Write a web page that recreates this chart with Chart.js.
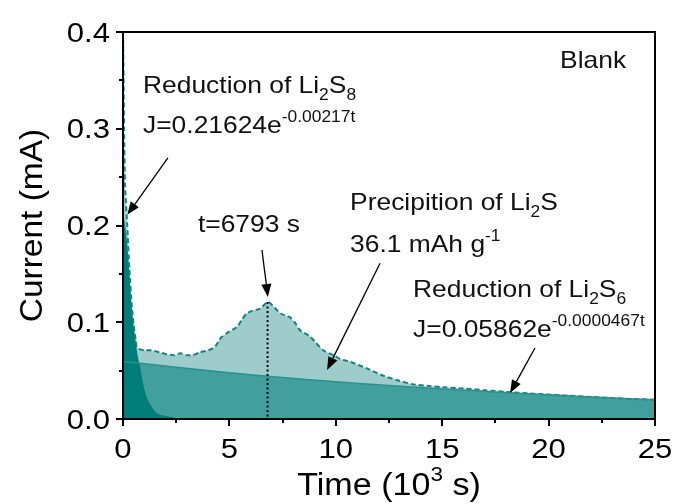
<!DOCTYPE html>
<html><head><meta charset="utf-8">
<script src="https://cdn.jsdelivr.net/npm/chart.js@4/dist/chart.umd.min.js"></script>
<style>html,body{margin:0;padding:0;background:#fff}#c{display:block}</style>
</head><body>
<canvas id="c" width="674" height="504"></canvas>
<script>
// ---- data (time in 10^3 s, current in mA) ----
const timeMeasured = [0, 0.05, 0.1, 0.2, 0.3, 0.4, 0.5, 0.6, 0.65, 0.8, 1.0, 1.3, 1.7, 2.05, 2.4, 2.7, 3.0, 3.3, 3.6, 4.0, 4.3, 4.6, 4.9, 5.35, 5.6, 5.8, 6.1, 6.45, 6.793, 7.0, 7.4, 7.85, 8.1, 8.3, 8.8, 9.4, 9.9, 10.2, 10.7, 11.6, 12.2, 12.9, 13.6, 14.4, 15.2, 16.0, 17.0, 18.0, 19.3, 20.7, 22.0, 23.0, 24.0, 25.0];
const currentMeasured = [0.41, 0.30, 0.24, 0.20, 0.155, 0.12, 0.097, 0.081, 0.074, 0.072, 0.071, 0.071, 0.069, 0.067, 0.066, 0.068, 0.066, 0.066, 0.069, 0.071, 0.074, 0.084, 0.089, 0.095, 0.103, 0.109, 0.112, 0.114, 0.121, 0.118, 0.109, 0.105, 0.099, 0.092, 0.085, 0.071, 0.066, 0.062, 0.059, 0.051, 0.045, 0.040, 0.036, 0.034, 0.0325, 0.0315, 0.0298, 0.028, 0.0262, 0.0244, 0.0228, 0.0216, 0.0207, 0.0199];
const timeLi2S8 = [0, 0.1, 0.2, 0.3, 0.4, 0.5, 0.6, 0.7, 0.8, 0.94, 1.05, 1.17, 1.4, 1.6, 2.0, 2.5, 3.0, 4.0, 25.0];
const currentLi2S8 = [0.216, 0.20, 0.18, 0.15, 0.118, 0.096, 0.079, 0.064, 0.054, 0.037, 0.027, 0.020, 0.011, 0.006, 0.003, 0.001, 0.0005, 0.0, 0.0];
const timeLi2S6 = [0, 2.5, 5, 7.5, 10, 12.5, 15, 17.5, 20, 22.5, 25];
const currentLi2S6 = [0.0595, 0.0535, 0.0478, 0.0428, 0.0385, 0.0345, 0.031, 0.0278, 0.025, 0.0222, 0.0198];
const xTickValues = [0, 5, 10, 15, 20, 25];
const yTickValues = [0.0, 0.1, 0.2, 0.3, 0.4];
const peakTime = 6.793;

const FONT = '"Liberation Sans", Arial, Helvetica, sans-serif';
const C_DARK = '#007d79';
const C_MED = '#41a09d';
const C_MED_LINE = '#2a918e';
const C_LIGHT = '#9dcccb';
const C_DASH = '#16837f';

const toPts = (xs, ys) => xs.map((x, i) => ({x, y: ys[i]}));

// annotation texts (anchored in data coordinates)
const notes = [
  {x: 0.94, y: 0.337, parts: [{t: 'Reduction of Li'}, {t: '2', sub: 1}, {t: 'S'}, {t: '8', sub: 1}]},
  {x: 0.94, y: 0.2956, parts: [{t: 'J=0.21624e'}, {t: '-0.00217t', sup: 1}]},
  {x: 3.52, y: 0.193, parts: [{t: 't=6793 s'}]},
  {x: 10.67, y: 0.216, parts: [{t: 'Precipition of Li'}, {t: '2', sub: 1}, {t: 'S'}]},
  {x: 10.67, y: 0.1726, parts: [{t: '36.1 mAh g'}, {t: '-1', sup: 1}]},
  {x: 13.63, y: 0.126, parts: [{t: 'Reduction of Li'}, {t: '2', sub: 1}, {t: 'S'}, {t: '6', sub: 1}]},
  {x: 13.63, y: 0.0848, parts: [{t: 'J=0.05862e'}, {t: '-0.0000467t', sup: 1}]},
  {x: 20.54, y: 0.3628, parts: [{t: 'Blank'}]}
];
const arrows = [
  {from: [2.11, 0.27], to: [0.2, 0.211]},
  {from: [6.53, 0.1747], to: [6.81, 0.126]},
  {from: [12.08, 0.161], to: [9.59, 0.0506]},
  {from: [19.36, 0.0734], to: [18.19, 0.0269]}
];

// draws rich text with horizontal stretch sx; returns width
function drawRich(ctx, parts, x, y, size, sx, measureOnly) {
  let cx = x;
  ctx.textBaseline = 'alphabetic';
  ctx.textAlign = 'left';
  for (const p of parts) {
    let fs = size, dy = 0;
    if (p.sub) { fs = size * 0.66; dy = size * 0.3; }
    if (p.sup) { fs = size * 0.66; dy = -size * 0.45; }
    ctx.font = fs + 'px ' + FONT;
    const w = ctx.measureText(p.t).width * sx;
    if (!measureOnly) {
      ctx.save();
      ctx.translate(cx, y + dy);
      ctx.scale(sx, 1);
      ctx.fillText(p.t, 0, 0);
      ctx.restore();
    }
    cx += w;
  }
  return cx - x;
}

function arrow(ctx, x1, y1, x2, y2) {
  const ang = Math.atan2(y2 - y1, x2 - x1);
  const L = 13, W = 5;
  const bx = x2 - L * Math.cos(ang), by = y2 - L * Math.sin(ang);
  ctx.beginPath();
  ctx.moveTo(x1, y1); ctx.lineTo(bx, by);
  ctx.lineWidth = 1.3; ctx.strokeStyle = '#000'; ctx.stroke();
  ctx.beginPath();
  ctx.moveTo(x2, y2);
  ctx.lineTo(bx + W * Math.sin(ang), by - W * Math.cos(ang));
  ctx.lineTo(bx - W * Math.sin(ang), by + W * Math.cos(ang));
  ctx.closePath(); ctx.fillStyle = '#000'; ctx.fill();
}

const deco = {
  id: 'deco',
  afterDraw(chart) {
    const {ctx, chartArea: a, scales: {x, y}} = chart;
    ctx.save();
    // dotted peak marker
    const iPeak = currentMeasured.indexOf(Math.max(...currentMeasured.slice(5)));
    const px = x.getPixelForValue(peakTime);
    ctx.beginPath();
    ctx.setLineDash([2, 2.5]);
    ctx.moveTo(px, y.getPixelForValue(currentMeasured[iPeak]));
    ctx.lineTo(px, a.bottom);
    ctx.lineWidth = 2; ctx.strokeStyle = '#000'; ctx.stroke();
    ctx.setLineDash([]);
    // frame
    ctx.lineWidth = 2; ctx.strokeStyle = '#000';
    ctx.strokeRect(a.left, a.top, a.right - a.left, a.bottom - a.top);
    // minor ticks
    ctx.beginPath();
    for (let v = 0.05; v < 0.4; v += 0.1) {
      const py = Math.round(y.getPixelForValue(v));
      ctx.moveTo(a.left, py); ctx.lineTo(a.left - 4, py);
    }
    for (let v = 2.5; v < 25; v += 5) {
      const qx = Math.round(x.getPixelForValue(v));
      ctx.moveTo(qx, a.bottom); ctx.lineTo(qx, a.bottom + 4);
    }
    ctx.stroke();
    // tick labels
    ctx.fillStyle = '#000';
    const TS = 27, TSX = 1.15;
    for (const v of yTickValues) {
      const parts = [{t: v.toFixed(1)}];
      const w = drawRich(ctx, parts, 0, 0, TS, TSX, true);
      drawRich(ctx, parts, a.left - 13 - w, y.getPixelForValue(v) + TS * 0.36, TS, TSX);
    }
    for (const v of xTickValues) {
      const parts = [{t: String(v)}];
      const w = drawRich(ctx, parts, 0, 0, TS, TSX, true);
      drawRich(ctx, parts, x.getPixelForValue(v) - w / 2, a.bottom + 39, TS, TSX);
    }
    // annotations
    ctx.fillStyle = '#111';
    for (const n of notes) drawRich(ctx, n.parts, x.getPixelForValue(n.x), y.getPixelForValue(n.y), 24, 1.1);
    for (const ar of arrows) arrow(ctx, x.getPixelForValue(ar.from[0]), y.getPixelForValue(ar.from[1]), x.getPixelForValue(ar.to[0]), y.getPixelForValue(ar.to[1]));
    // axis titles
    ctx.fillStyle = '#000';
    ctx.save();
    ctx.translate(42, (a.top + a.bottom) / 2);
    ctx.rotate(-Math.PI / 2);
    const yt = [{t: 'Current (mA)'}];
    const wy = drawRich(ctx, yt, 0, 0, 31, 1.08, true);
    drawRich(ctx, yt, -wy / 2, 0, 31, 1.08);
    ctx.restore();
    const xt = [{t: 'Time (10'}, {t: '3', sup: 1}, {t: ' s)'}];
    const wx = drawRich(ctx, xt, 0, 0, 31, 1.1, true);
    drawRich(ctx, xt, (a.left + a.right) / 2 - wx / 2, 495, 31, 1.1);
    ctx.restore();
  }
};

new Chart(document.getElementById('c'), {
  type: 'line',
  data: {
    datasets: [
      {label: 'Li2S8', data: toPts(timeLi2S8, currentLi2S8), fill: 'origin', backgroundColor: C_DARK, borderWidth: 0, borderColor: C_DARK, pointRadius: 0, tension: 0.3},
      {label: 'Li2S6', data: toPts(timeLi2S6, currentLi2S6), fill: 'origin', backgroundColor: C_MED, borderColor: C_MED_LINE, borderWidth: 1.5, pointRadius: 0, tension: 0.3,
        segment: {borderColor: c => c.p1.parsed.x <= 0.6 ? 'rgba(0,0,0,0)' : C_MED_LINE}},
      {label: 'Measured', data: toPts(timeMeasured, currentMeasured), fill: 'origin', backgroundColor: C_LIGHT, borderColor: C_DASH, borderWidth: 2, borderDash: [5, 3], pointRadius: 0, tension: 0.2}
    ]
  },
  options: {
    responsive: false,
    animation: false,
    devicePixelRatio: 1,
    layout: {padding: {top: 32, right: 19, left: 0, bottom: 0}},
    plugins: {legend: {display: false}, tooltip: {enabled: false}, filler: {drawTime: 'beforeDatasetsDraw'}},
    scales: {
      x: {
        type: 'linear', min: 0, max: 25,
        afterFit: s => { s.height = 85; },
        afterBuildTicks: s => { s.ticks = xTickValues.map(v => ({value: v})); },
        ticks: {display: false},
        grid: {drawOnChartArea: false, drawTicks: true, tickLength: 7, color: '#000', lineWidth: 2},
        border: {display: true, color: '#000', width: 2},
        title: {display: false}
      },
      y: {
        type: 'linear', min: 0, max: 0.4,
        afterFit: s => { s.width = 123; },
        afterBuildTicks: s => { s.ticks = yTickValues.map(v => ({value: v})); },
        ticks: {display: false},
        grid: {drawOnChartArea: false, drawTicks: true, tickLength: 7, color: '#000', lineWidth: 2},
        border: {display: true, color: '#000', width: 2},
        title: {display: false}
      }
    }
  },
  plugins: [deco]
});
</script>
</body></html>
